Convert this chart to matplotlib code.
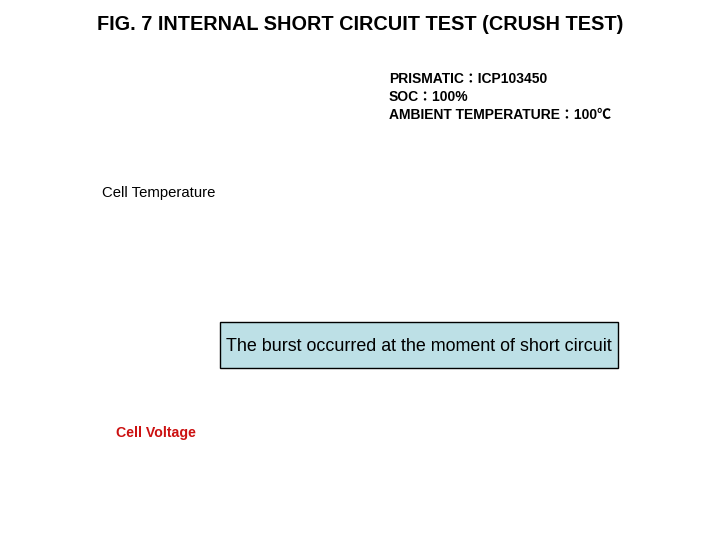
import matplotlib
matplotlib.use("Agg")
import matplotlib.pyplot as plt
from matplotlib.patches import Rectangle

plt.rcParams['font.family'] = ['Liberation Sans', 'Noto Sans CJK JP', 'DejaVu Sans']

title = "FIG. 7 INTERNAL SHORT CIRCUIT TEST (CRUSH TEST)"
conditions = ["PRISMATIC：ICP103450",
              "SOC：100%",
              "AMBIENT TEMPERATURE：100℃"]
temp_label = "Cell Temperature"
volt_label = "Cell Voltage"
note = "The burst occurred at the moment of short circuit"

W, H = 720, 540
fig = plt.figure(figsize=(7.2, 5.4), dpi=100)
fig.patch.set_facecolor('white')


def px(x, y):
    # pixel coords (top-left origin) -> figure fraction
    return x / W, 1 - y / H


fig.text(*px(360, 24), title, ha='center', va='center',
         fontsize=14.3, fontweight='bold')

for i, line in enumerate(conditions):
    fig.text(*px(389, 79 + 18 * i), line, ha='left', va='center',
             fontsize=10, fontweight='bold')

fig.text(*px(102, 193), temp_label, ha='left', va='center', fontsize=10.7)

# note box
x0, y0 = px(220, 368)
fig.patches.append(Rectangle((x0, y0), 398 / W, 46 / H, transform=fig.transFigure,
                             facecolor='#bde0e6', edgecolor='black', linewidth=1))
fig.text(*px(419, 346.5), note, ha='center', va='center', fontsize=12.9)

fig.text(*px(116, 433), volt_label, ha='left', va='center',
         fontsize=10.2, fontweight='bold', color='#cc1111')

fig.savefig('out.png', dpi=100)
